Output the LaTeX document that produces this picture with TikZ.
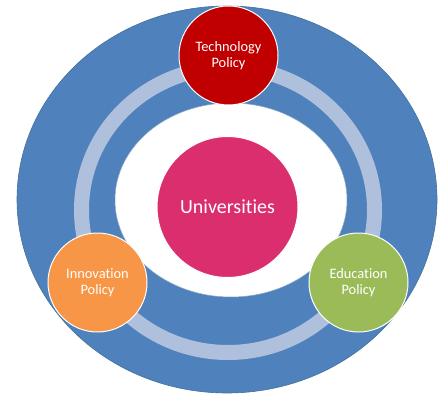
\documentclass[tikz,border=0pt]{standalone}
\usepackage{fontspec}
\setmainfont[Ligatures=NoCommon]{Carlito}
\definecolor{outerblue}{HTML}{4F81BD}
\definecolor{outeredge}{HTML}{41719C}
\definecolor{ringblue}{HTML}{AFC0DD}
\definecolor{techred}{HTML}{C00000}
\definecolor{unipink}{HTML}{DB2E6E}
\definecolor{innorange}{HTML}{F79646}
\definecolor{edugreen}{HTML}{9BBB59}
\tikzset{
  policy/.style={circle, draw=white, line width=1pt, minimum size=99pt, inner sep=0pt,
    text=white, align=center, font=\fontsize{14.4}{16.5}\selectfont},
  hub/.style={circle, draw=white, line width=1pt, minimum size=141pt, inner sep=0pt,
    text=white, align=center, font=\fontsize{20}{24}\selectfont}
}
\begin{document}
\begin{tikzpicture}[x=1pt,y=-1pt]
\useasboundingbox (0,0) rectangle (438,395);
\fill[white] (0,0) rectangle (438,395);
% outer blue ellipse
\filldraw[fill=outerblue, draw=outeredge, line width=0.6pt] (227,199.5) ellipse [x radius=210, y radius=193.5];
% light ring
\draw[ringblue, line width=15pt] (228,210) ellipse [x radius=146.5, y radius=142.5];
% inner white ellipse
\filldraw[fill=white, draw=outeredge!60, line width=0.5pt] (231,200) ellipse [x radius=116, y radius=97];
% nodes
\node[hub, fill=unipink] (uni) at (227.5,207) {Universities};
\node[policy, fill=techred] (tech) at (228.5,55.5) {Technology\\Policy};
\node[policy, fill=innorange] (inno) at (97.5,282.5) {Innovation\\Policy};
\node[policy, fill=edugreen] (edu) at (358.5,282.5) {Education\\Policy};
\end{tikzpicture}
\end{document}
